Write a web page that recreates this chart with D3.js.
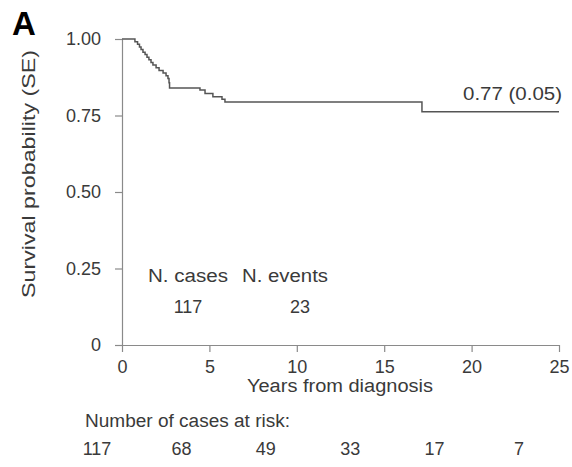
<!DOCTYPE html>
<html>
<head>
<meta charset="utf-8">
<script src="https://cdn.jsdelivr.net/npm/d3@7"></script>
<style>
  body { margin: 0; background: #fff; }
  svg { display: block; font-family: "Liberation Sans", Arial, sans-serif; }
</style>
</head>
<body>
<svg id="chart" width="572" height="467"></svg>
<script>
// Kaplan-Meier step points (years, survival)
const times    = [0, 0.74, 0.89, 1.0, 1.09, 1.2, 1.32, 1.43, 1.54, 1.66, 1.77, 1.95, 2.12, 2.35, 2.52, 2.63, 2.69, 2.72, 4.46, 4.75, 5.2, 5.72, 5.89, 17.16, 25];
const survival = [1, 0.991, 0.983, 0.974, 0.966, 0.957, 0.949, 0.940, 0.932, 0.923, 0.915, 0.906, 0.897, 0.889, 0.880, 0.871, 0.857, 0.840, 0.833, 0.822, 0.811, 0.803, 0.794, 0.762, 0.762];

const xTicks = [0, 5, 10, 15, 20, 25];
const yTicks = [0, 0.25, 0.5, 0.75, 1];
const yTickLabels = ["0", "0.25", "0.50", "0.75", "1.00"];

const riskTimes = [0, 5, 10, 15, 20, 25];
const atRisk = [117, 68, 49, 33, 17, 7];

const nCases = 117;
const nEvents = 23;
const finalLabel = "0.77 (0.05)";

const axisColor = "#8a8a8a";
const textColor = "#3a3a3a";
const lineColor = "#555";

const svg = d3.select("#chart");

// スケール
const x = d3.scaleLinear().domain([0, 25]).range([122, 559]);
const y = d3.scaleLinear().domain([0, 1]).range([345, 39]);

// 軸
const xAxis = svg.append("g")
    .attr("transform", `translate(0, ${y(0)})`)
    .call(d3.axisBottom(x).tickValues(xTicks).tickSize(7).tickSizeOuter(0).tickPadding(8));

const yAxis = svg.append("g")
    .attr("transform", `translate(${x(0)}, 0)`)
    .call(d3.axisLeft(y).tickValues(yTicks).tickSize(7).tickSizeOuter(0).tickPadding(14)
        .tickFormat((d, i) => yTickLabels[i]));

[xAxis, yAxis].forEach(g => {
    g.select(".domain").attr("stroke", axisColor).attr("stroke-width", 1.2);
    g.selectAll(".tick line").attr("stroke", axisColor).attr("stroke-width", 1.2);
    g.selectAll(".tick text")
        .attr("fill", textColor)
        .style("font-size", "18px")
        .style("font-family", "'Liberation Sans', Arial, sans-serif");
});

// 生存曲線
const line = d3.line()
    .x((d, i) => x(times[i]))
    .y(d => y(d))
    .curve(d3.curveStepAfter);

svg.append("path")
    .datum(survival)
    .attr("d", line)
    .attr("fill", "none")
    .attr("stroke", lineColor)
    .attr("stroke-width", 1.5);

// テキスト
const addText = (str, px, py, opts = {}) => {
    const t = svg.append("text")
        .attr("x", px)
        .attr("y", py)
        .attr("fill", opts.color || textColor)
        .attr("text-anchor", opts.anchor || "start")
        .style("font-size", (opts.size || 18) + "px")
        .style("font-weight", opts.weight || "normal")
        .text(str);
    if (opts.length) t.attr("textLength", opts.length).attr("lengthAdjust", "spacingAndGlyphs");
    if (opts.rotate) t.attr("transform", `rotate(${opts.rotate}, ${px}, ${py})`);
    return t;
};

addText("A", 12, 35, {size: 33, weight: "bold", color: "#000"});

addText("Survival probability (SE)", 35, 298, {size: 19, rotate: -90, length: 248});
addText("Years from diagnosis", 247, 392, {length: 186});

addText(finalLabel, 463, 100, {length: 99});

addText("N. cases", 148, 282, {length: 80});
addText("N. events", 242, 282, {length: 86});
addText(nCases, 188, 313, {anchor: "middle"});
addText(nEvents, 300, 313, {anchor: "middle"});

addText("Number of cases at risk:", 85, 427, {length: 205});

const riskX = d3.scaleLinear().domain([0, 25]).range([97, 519]);
svg.selectAll(".risk")
    .data(atRisk)
    .enter()
    .append("text")
    .attr("class", "risk")
    .attr("x", (d, i) => riskX(riskTimes[i]))
    .attr("y", 455)
    .attr("text-anchor", "middle")
    .attr("fill", textColor)
    .style("font-size", "18px")
    .text(d => d);
</script>
</body>
</html>
